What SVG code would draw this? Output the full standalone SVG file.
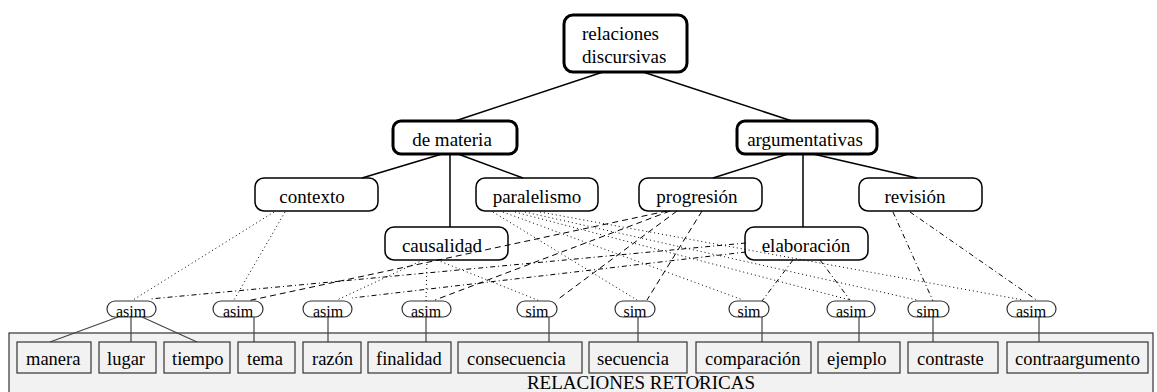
<svg xmlns="http://www.w3.org/2000/svg" width="1157" height="392" viewBox="0 0 1157 392">
<style>
text{font-family:"Liberation Serif","Times New Roman",serif;fill:#000}
.top{fill:none;stroke:#000;stroke-width:3}
.mid{fill:none;stroke:#000;stroke-width:1.5}
.pill{fill:none;stroke:#333;stroke-width:1.2}
.leaf{fill:#f2f2f2;stroke:#333;stroke-width:1.2}
.t19{font-size:19px}
.t18{font-size:18.5px}
.t16{font-size:16px;text-anchor:middle}
.c{text-anchor:middle}
.tree{stroke:#000;stroke-width:1.5;fill:none}
.down{stroke:#444;stroke-width:1.2;fill:none}
.dot{stroke:#000;stroke-width:1;stroke-dasharray:1 3;fill:none}
.dash{stroke:#000;stroke-width:1;stroke-dasharray:6 4;fill:none}
.dd{stroke:#000;stroke-width:1;stroke-dasharray:5 3 1 3;fill:none}
</style>
<rect x="9" y="333" width="1144" height="70" fill="#f2f2f2" stroke="#333" stroke-width="1.2"/>
<text class="t19 c" x="641" y="389">RELACIONES RETORICAS</text>
<path d="M698,383 L701,378" stroke="#333" stroke-width="0.8"/>
<g id="connectors">
<path class="tree" d="M603,72 L455,121 M643,72 L792,121 M442,154 L362,178 M450,154 L450,227 M458,154 L523,178 M788,154 L713,178 M803,154 L803,227 M813,154 L917,178"/>
<path class="down" d="M118,317 L50,342 M131,317 L131,342 M142,317 L197,342 M254,317 L254,342 M328,317 L328,342 M426,317 L426,342 M549,317 L549,342 M638,317 L638,342 M762,317 L762,342 M859,317 L859,342 M933,317 L933,342 M1039,317 L1039,342"/>
<path class="dot" d="M274,212 L133,300 M285,212 L234,300"/>
<path class="dot" d="M423,260 L337,300 M427,260 L426,301 M437,260 L540,301"/>
<path class="dash" d="M667,211 L247,301 M670,211 L435,300 M677,211 L557,300 M702,211 L647,300"/>
<path class="dot" d="M493,212 L637,300 M503,212 L743,300 M515,212 L850,300 M525,212 L917,300 M540,212 L1023,300"/>
<path class="dd" d="M746,243 L150,299 M746,252 L352,298 M793,260 L762,301 M820,260 L850,300"/>
<path class="dd" d="M893,212 L933,301 M910,212 L1038,301"/>
</g>
<g id="n-relaciones"><rect class="top" x="564" y="15" width="123" height="57" rx="9"/><text class="t19" x="582" y="40">relaciones</text><text class="t19" x="582" y="63">discursivas</text></g>
<g id="n-materia"><rect class="top" x="393" y="121" width="124" height="33" rx="8"/><text class="t19 c" x="452" y="146">de materia</text></g>
<g id="n-argumentativas"><rect class="top" x="737" y="121" width="140" height="33" rx="8"/><text class="t19 c" x="805" y="146">argumentativas</text></g>
<g id="n-contexto"><rect class="mid" x="255" y="178" width="123" height="33" rx="9"/><text class="t19 c" x="312" y="203">contexto</text></g>
<g id="n-paralelismo"><rect class="mid" x="476" y="178" width="122" height="33" rx="9"/><text class="t19 c" x="537" y="203">paralelismo</text></g>
<g id="n-progresion"><rect class="mid" x="639" y="178" width="123" height="33" rx="9"/><text class="t19 c" x="697" y="203">progresión</text></g>
<g id="n-revision"><rect class="mid" x="859" y="178" width="123" height="33" rx="9"/><text class="t19 c" x="915" y="203">revisión</text></g>
<g id="n-causalidad"><rect class="mid" x="385" y="227" width="123" height="33" rx="9"/><text class="t19 c" x="442" y="252">causalidad</text></g>
<g id="n-elaboracion"><rect class="mid" x="745" y="227" width="123" height="33" rx="9"/><text class="t19 c" x="806" y="252">elaboración</text></g>
<g id="p1"><rect class="pill" x="107" y="301" width="49" height="16" rx="8"/><text class="t16" x="131" y="317">asim</text></g>
<g id="p2"><rect class="pill" x="213" y="301" width="50" height="16" rx="8"/><text class="t16" x="238" y="317">asim</text></g>
<g id="p3"><rect class="pill" x="303" y="301" width="49" height="16" rx="8"/><text class="t16" x="328" y="317">asim</text></g>
<g id="p4"><rect class="pill" x="402" y="301" width="49" height="16" rx="8"/><text class="t16" x="426" y="317">asim</text></g>
<g id="p5"><rect class="pill" x="517" y="301" width="40" height="16" rx="8"/><text class="t16" x="537" y="317">sim</text></g>
<g id="p6"><rect class="pill" x="615" y="301" width="40" height="16" rx="8"/><text class="t16" x="635" y="317">sim</text></g>
<g id="p7"><rect class="pill" x="729" y="301" width="40" height="16" rx="8"/><text class="t16" x="749" y="317">sim</text></g>
<g id="p8"><rect class="pill" x="827" y="301" width="48" height="16" rx="8"/><text class="t16" x="851" y="317">asim</text></g>
<g id="p9"><rect class="pill" x="908" y="301" width="41" height="16" rx="8"/><text class="t16" x="928" y="317">sim</text></g>
<g id="p10"><rect class="pill" x="1007" y="301" width="49" height="16" rx="8"/><text class="t16" x="1031" y="317">asim</text></g>
<g id="l-manera"><rect class="leaf" x="17" y="342" width="74" height="31"/><text class="t18" x="26" y="365">manera</text></g>
<g id="l-lugar"><rect class="leaf" x="99" y="342" width="57" height="31"/><text class="t18" x="107" y="365">lugar</text></g>
<g id="l-tiempo"><rect class="leaf" x="164" y="342" width="66" height="31"/><text class="t18" x="172" y="365">tiempo</text></g>
<g id="l-tema"><rect class="leaf" x="238" y="342" width="57" height="31"/><text class="t18" x="247" y="365">tema</text></g>
<g id="l-razon"><rect class="leaf" x="303" y="342" width="58" height="31"/><text class="t18" x="312" y="365">razón</text></g>
<g id="l-finalidad"><rect class="leaf" x="368" y="342" width="83" height="31"/><text class="t18" x="376" y="365">finalidad</text></g>
<g id="l-consecuencia"><rect class="leaf" x="458" y="342" width="124" height="31"/><text class="t18" x="467" y="365">consecuencia</text></g>
<g id="l-secuencia"><rect class="leaf" x="589" y="342" width="98" height="31"/><text class="t18" x="597" y="365">secuencia</text></g>
<g id="l-comparacion"><rect class="leaf" x="696" y="342" width="115" height="31"/><text class="t18" x="705" y="365">comparación</text></g>
<g id="l-ejemplo"><rect class="leaf" x="818" y="342" width="82" height="31"/><text class="t18" x="827" y="365">ejemplo</text></g>
<g id="l-contraste"><rect class="leaf" x="908" y="342" width="90" height="31"/><text class="t18" x="917" y="365">contraste</text></g>
<g id="l-contraargumento"><rect class="leaf" x="1007" y="342" width="141" height="31"/><text class="t18" x="1015" y="365">contraargumento</text></g>
</svg>
